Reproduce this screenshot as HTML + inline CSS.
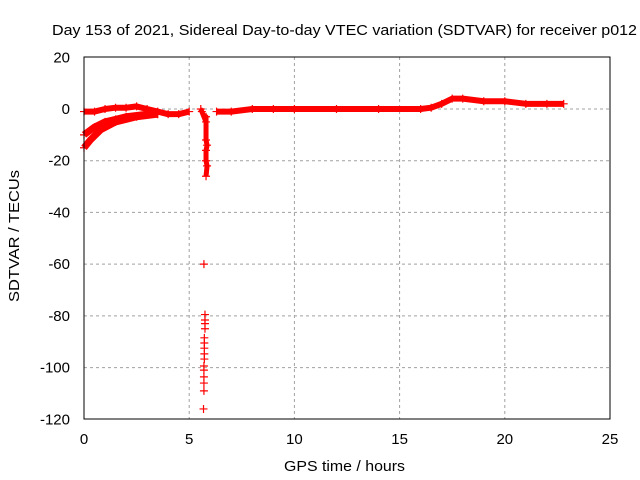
<!DOCTYPE html>
<html><head><meta charset="utf-8"><style>body{margin:0;background:#fff}svg{display:block;font-family:"Liberation Sans",sans-serif}</style></head>
<body>
<svg id="c" width="640" height="480">
<text x="52" y="35" textLength="585" lengthAdjust="spacingAndGlyphs" font-size="15">Day 153 of 2021, Sidereal Day-to-day VTEC variation (SDTVAR) for receiver p012</text>
<text x="284" y="471" textLength="121" lengthAdjust="spacingAndGlyphs" font-size="15">GPS time / hours</text>
<text transform="translate(19,302) rotate(-90)" textLength="132" lengthAdjust="spacingAndGlyphs" font-size="15">SDTVAR / TECUs</text>
<g id="grid"></g><g id="marks"></g>
<rect x="84" y="57" width="526" height="362" fill="none" stroke="#000"/>
</svg>
<script>
const xTicks=[0,5,10,15,20,25];
const yTicks=[20,0,-20,-40,-60,-80,-100,-120];
const mainX=[0,0.5,1,1.5,2,2.5,3,3.5,4,4.5,5,null,6.3,7,8,9,10,12,14,16,16.5,17,17.5,18,19,20,21,22,22.8];
const mainY=[-1,-1,0,0.5,0.5,1,0,-1,-2,-2,-1,null,-1,-1,0,0,0,0,0,0,0.5,2,4,4,3,3,2,2,2];
const low1X=[0,0.5,1,1.5,2,3,3.5];
const low1Y=[-10,-7,-5,-4,-3,-2,-2];
const low2X=[0,0.3,0.8,1.5,2.5,3.5];
const low2Y=[-15,-12,-8,-5,-3,-2];
const spikeX=[5.55,5.6,5.8,5.8,5.8,5.85,5.8,5.8,5.85,5.8];
const spikeY=[0,-1,-5,-3,-12,-14,-16,-20,-22,-26];
const scatX=[5.7,5.75,5.75,5.75,5.75,5.72,5.72,5.72,5.72,5.72,5.7,5.7,5.7,5.7,5.7,5.68];
const scatY=[-60,-79.5,-81.6,-83,-85,-88.5,-90.5,-92.5,-94.7,-96.7,-99.4,-101,-103.6,-106,-109,-116];
const X=h=>84+h*526/25, Y=v=>109-v*362/140;
const ns="http://www.w3.org/2000/svg";
const grid=document.getElementById('grid'),marks=document.getElementById('marks');
function mk(p,tag,a){const e=document.createElementNS(ns,tag);for(const k in a)e.setAttribute(k,a[k]);p.appendChild(e);return e;}
xTicks.forEach(t=>{const x=X(t);
 if(t>0&&t<25){const l=mk(grid,'line',{x1:x,x2:x,y1:57,y2:419,stroke:'#a0a0a0','stroke-dasharray':'3,3'});
 
 }
 const tx=mk(grid,'text',{x:x,y:444,'text-anchor':'middle','font-size':15});tx.textContent=t;
 
 });
yTicks.forEach(t=>{const y=Y(t);
 if(t<20&&t>-120){const l=mk(grid,'line',{x1:84,x2:610,y1:y,y2:y,stroke:'#a0a0a0','stroke-dasharray':'3,3'});
 
 }
 const tx=mk(grid,'text',{x:70,y:y+5,'text-anchor':'end','font-size':15});tx.textContent=t;
 
 });
function track(xs,ys,name,w){let d='',pen=false;
 xs.forEach((x,i)=>{if(x===null){pen=false;return;}d+=(pen?'L':'M')+X(x)+','+Y(ys[i]);pen=true;});
 const p=mk(marks,'path',{d:d,fill:'none',stroke:'#f00','stroke-width':w,'stroke-linejoin':'round'});
 
 }
function plus(xs,ys,name){xs.forEach((x,i)=>{if(x===null)return;const cx=X(x),cy=Y(ys[i]);
 const p=mk(marks,'path',{d:`M${cx-4},${cy}h8M${cx},${cy-4}v8`,stroke:'#f00','stroke-width':1.2});
 
 });}
track(mainX,mainY,'main-track',6);plus(mainX,mainY,'main-point');
track(low1X,low1Y,'lower-track-1',7);plus(low1X,low1Y,'lower-point-1');
track(low2X,low2Y,'lower-track-2',7);plus(low2X,low2Y,'lower-point-2');
track(spikeX,spikeY,'spike-track',5);plus(spikeX,spikeY,'spike-point');
plus(scatX,scatY,'outlier-point');
</script>
</body></html>
